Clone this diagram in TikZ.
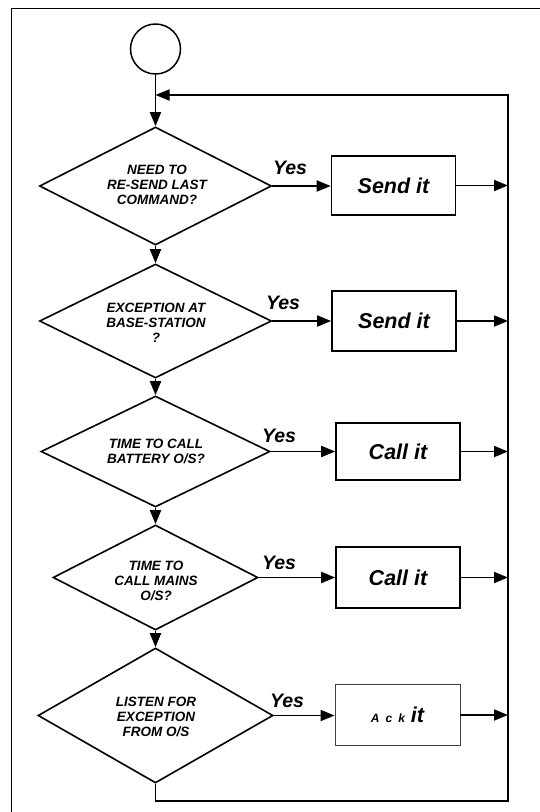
\documentclass[tikz,border=0pt]{standalone}
\usepackage{fontspec}
\setmainfont{Liberation Sans}
\usetikzlibrary{shapes.geometric,arrows.meta,calc}
\begin{document}
\begin{tikzpicture}[x=1pt,y=-1pt,
  line width=1.8pt,
  arr/.style={-{Triangle[length=14pt,width=11pt]}},
  dia/.style={draw, diamond, inner sep=0pt, line width=1.6pt},
  qtext/.style={align=center, font=\fontsize{13.5}{15}\selectfont\bfseries\itshape, inner sep=0pt},
  act/.style={draw, rectangle, inner sep=0pt, minimum width=124pt, minimum height=59pt, line width=1.6pt, font=\fontsize{21.5}{24}\selectfont\bfseries\itshape},
  yes/.style={font=\fontsize{19.5}{22}\selectfont\bfseries\itshape, inner sep=0pt},
]
\path[use as bounding box] (0,0) rectangle (539,812);
% outer frame
\draw[line width=1.8pt] (11.5,816) -- (11.5,8.5) -- (545,8.5);

% start
\node[draw, circle, minimum size=50pt, inner sep=0pt, line width=1.5pt] (start) at (155.5,49) {};

% decisions
\node[dia, minimum width=232pt, minimum height=118pt] (d1) at (155.5,186) {};
\node[qtext] (t1) at (157,185) {NEED TO\\RE-SEND LAST\\COMMAND?};
\node[dia, minimum width=232pt, minimum height=114pt] (d2) at (155.5,321) {};
\node[qtext] (t2) at (156,323) {EXCEPTION AT\\BASE-STATION\\?};
\node[dia, minimum width=229pt, minimum height=111pt] (d3) at (155.5,451.5) {};
\node[qtext] (t3) at (156,451) {TIME TO CALL\\BATTERY O/S?};
\node[dia, minimum width=205pt, minimum height=105pt] (d4) at (155.5,577.5) {};
\node[qtext] (t4) at (156,581) {TIME TO\\CALL MAINS\\O/S?};
\node[dia, minimum width=235pt, minimum height=135pt] (d5) at (155.5,715.5) {};
\node[qtext] (t5) at (156,717) {LISTEN FOR\\EXCEPTION\\FROM O/S};

% actions
\node[act] (b1) at (393.5,185.5) {Send it};
\node[act, minimum height=60pt] (b2) at (394,321) {Send it};
\node[act, minimum height=57pt] (b3) at (398,451.5) {Call it};
\node[act, minimum height=61pt] (b4) at (398,577.5) {Call it};
\node[act, minimum width=125pt, minimum height=61pt, line width=0.9pt, draw=black!75] (b5) at (397.5,715) {\fontsize{12}{13}\selectfont A\hspace{6pt}c\hspace{6pt}k\hspace{6pt}\fontsize{21.5}{24}\selectfont it};

% yes labels
\node[yes] (y1) at (290,168) {Yes};
\node[yes] (y2) at (283,303) {Yes};
\node[yes] (y3) at (279,436) {Yes};
\node[yes] (y4) at (279,563) {Yes};
\node[yes] (y5) at (287,701) {Yes};

% loop coordinates
\coordinate (loopin) at (155.5,95);
\coordinate (tr) at (508,95);
\coordinate (br) at (508,801);

% vertical flow
\draw[arr] (start.south) -- (d1.north);
\draw[arr] (d1.south) -- (d2.north);
\draw[arr] (d2.south) -- (d3.north);
\draw[arr] (d3.south) -- (d4.north);
\draw[arr] (d4.south) -- (d5.north);

% yes branches
\foreach \i in {1,...,5}{
  \draw[arr] (d\i.east) -- (d\i.east -| b\i.west);
  \draw[arr] (b\i.east) -- (b\i.east -| tr);
}

% loop back
\draw[arr] (d5.south) |- (br) -- (tr) -- (loopin);
\end{tikzpicture}
\end{document}
